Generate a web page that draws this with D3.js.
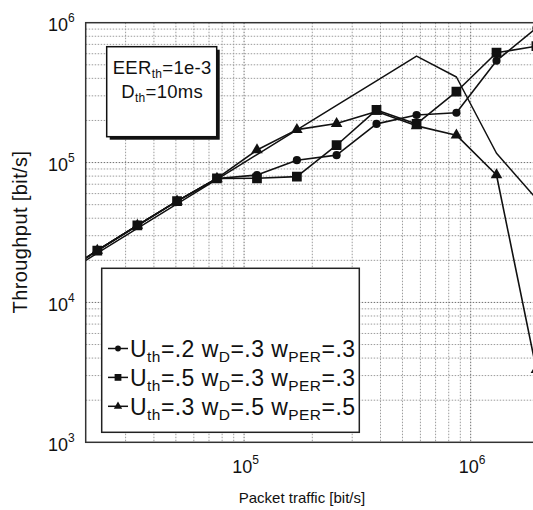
<!DOCTYPE html>
<html><head><meta charset="utf-8">
<script src="https://cdn.jsdelivr.net/npm/d3@7/dist/d3.min.js"></script>
<style>
body{margin:0;background:#fff;}
svg{display:block;font-family:"Liberation Sans",Arial,Helvetica,sans-serif;}
</style>
</head><body>
<svg id="c" width="533" height="510"></svg>
<script>
// ---------------- data ----------------
const traffic = [15000, 22500, 33800, 50600, 75900, 114000, 171000, 256000, 384000, 577000, 865000, 1300000, 1950000];
const thrU2 = [15300, 23500, 35500, 53000, 77000, 81500, 104000, 113000, 189000, 219000, 227000, 535000, 916000];
const thrU5 = [15300, 23500, 35500, 53000, 77000, 77200, 79300, 133000, 238000, 189000, 321000, 610000, 680000];
const thrU3 = [15300, 23500, 35500, 53000, 77000, 123000, 172000, 190000, 232000, 183000, 157000, 81500, 3300];
const thrRef = [15000, 22500, 33800, 50600, 75900, 114000, 171000, 256000, 384000, 577000, 409000, 116600, 55100];
const xTickExps = [5, 6];
const yTickExps = [3, 4, 5, 6];
const legendU = [".2", ".5", ".3"];
const legendWD = [".3", ".3", ".5"];
const legendWPER = [".3", ".3", ".5"];
const legendMarkers = ["circle", "square", "triangle"];
const noteEER = "1e-3";
const noteD = "10ms";

// ---------------- layout ----------------
const svg = d3.select("#c");
const L = 85.7, R = 538.9, T = 22.7, B = 442.3;
const x = d3.scaleLog().domain([2e4, 2e6]).range([L, R]);
const y = d3.scaleLog().domain([1e3, 1e6]).range([B, T]);

svg.append("defs").append("clipPath").attr("id", "clip")
  .append("rect").attr("x", L).attr("y", T).attr("width", R - L).attr("height", B - T);

function logGrid(lo, hi) {
  const out = [];
  for (let e = 2; e <= 7; e++) for (let m = 1; m <= 9; m++) {
    const v = m * Math.pow(10, e);
    if (v > lo * 1.0001 && v < hi * 0.9999) out.push(v);
  }
  return out;
}
const gx = logGrid(2e4, 2e6), gy = logGrid(1e3, 1e6);

const grid = svg.append("g").attr("stroke-width", 1).attr("stroke-dasharray", "1.5,1.5");
grid.selectAll(".vx").data(gx).join("line")
  .attr("x1", d => x(d)).attr("x2", d => x(d)).attr("y1", T).attr("y2", B)
  .attr("stroke", d => Math.abs(Math.log10(d) % 1) < 1e-9 ? "#6f6f6f" : "#9c9c9c");
grid.selectAll(".hy").data(gy).join("line")
  .attr("y1", d => y(d)).attr("y2", d => y(d)).attr("x1", L).attr("x2", R)
  .attr("stroke", d => Math.abs(Math.log10(d) % 1) < 1e-9 ? "#6f6f6f" : "#9c9c9c");

// ---------------- annotation box ----------------
const ann = {x: 106.7, y: 46.7, w: 110, h: 90};
svg.append("rect").attr("x", ann.x + 3).attr("y", ann.y + 3).attr("width", ann.w).attr("height", ann.h).attr("fill", "#111");
svg.append("rect").attr("x", ann.x).attr("y", ann.y).attr("width", ann.w).attr("height", ann.h)
  .attr("fill", "#fff").attr("stroke", "#111").attr("stroke-width", 1.5);

function richParts(t, parts, size, subSize, subDy) {
  let shifted = false;
  parts.forEach(p => {
    const ts = t.append("tspan").text(p.t);
    if (p.x !== undefined) ts.attr("x", p.x);
    let dy = p.dy || 0;
    if (p.sub && !shifted) { dy += subDy; shifted = true; }
    else if (!p.sub && shifted) { dy -= subDy; shifted = false; }
    if (dy) ts.attr("dy", dy);
    ts.attr("font-size", p.sub ? subSize : size);
  });
}
const cx = ann.x + ann.w / 2 + 0.5;
const note1 = svg.append("text").attr("x", cx).attr("y", 74.2).attr("text-anchor", "middle")
  .attr("fill", "#111").attr("letter-spacing", 0.3);
richParts(note1, [{t: "EER"}, {t: "th", sub: true}, {t: "=" + noteEER}], 18.5, 12, 4);
const note2 = svg.append("text").attr("x", cx).attr("y", 98.2).attr("text-anchor", "middle")
  .attr("fill", "#111").attr("letter-spacing", 0.3);
richParts(note2, [{t: "D"}, {t: "th", sub: true}, {t: "=" + noteD}], 18.5, 12, 4);

// ---------------- legend box ----------------
const lg = {x: 101.7, y: 268.3, w: 257.6, h: 164};
svg.append("rect").attr("x", lg.x).attr("y", lg.y).attr("width", lg.w).attr("height", lg.h)
  .attr("fill", "#fff").attr("stroke", "#222").attr("stroke-width", 1.5);

// ---------------- series ----------------
const series = [
  {vals: thrU2, marker: "circle"},
  {vals: thrU5, marker: "square"},
  {vals: thrU3, marker: "triangle"}
];
const line = d3.line().x((d, i) => x(traffic[i])).y(d => y(d));
const plot = svg.append("g").attr("clip-path", "url(#clip)");
plot.append("path").datum(thrRef).attr("d", line).attr("fill", "none")
  .attr("stroke", "#111").attr("stroke-width", 1.5).attr("stroke-linejoin", "round");
series.forEach(s => {
  plot.append("path").datum(s.vals).attr("d", line).attr("fill", "none")
    .attr("stroke", "#111").attr("stroke-width", 1.6).attr("stroke-linejoin", "round");
});
const sym = {
  circle: d3.symbol().type(d3.symbolCircle).size(52),
  square: d3.symbol().type(d3.symbolSquare).size(95),
  triangle: d3.symbol().type(d3.symbolTriangle).size(58)
};
const symSmall = {
  circle: d3.symbol().type(d3.symbolCircle).size(26),
  square: d3.symbol().type(d3.symbolSquare).size(46),
  triangle: d3.symbol().type(d3.symbolTriangle).size(30)
};
series.forEach(s => {
  plot.selectAll(null).data(s.vals).join("path")
    .attr("transform", (d, i) => `translate(${x(traffic[i])},${y(d)})`)
    .attr("d", sym[s.marker]()).attr("fill", "#111");
});

// ---------------- frame & axes ----------------
svg.append("rect").attr("x", L).attr("y", T).attr("width", R - L).attr("height", B - T)
  .attr("fill", "none").attr("stroke", "#333").attr("stroke-width", 1.5);

const xAxis = svg.append("g").attr("transform", `translate(0,${B})`)
  .call(d3.axisBottom(x).tickValues(xTickExps.map(e => Math.pow(10, e))).tickSize(0).tickFormat(""));
xAxis.select(".domain").remove();
xAxis.selectAll(".tick").each(function(d) {
  const t = d3.select(this).append("text").attr("x", 1).attr("y", 30.4).attr("text-anchor", "middle")
    .attr("fill", "#111").attr("font-size", 18);
  t.append("tspan").text("10");
  t.append("tspan").text(Math.round(Math.log10(d))).attr("font-size", 12).attr("dy", -9);
});

const yAxis = svg.append("g").attr("transform", `translate(${L},0)`)
  .call(d3.axisLeft(y).tickValues(yTickExps.map(e => Math.pow(10, e))).tickSize(0).tickFormat(""));
yAxis.select(".domain").remove();
yAxis.selectAll(".tick").each(function(d) {
  const t = d3.select(this).append("text").attr("x", -11).attr("y", 8).attr("text-anchor", "end")
    .attr("fill", "#111").attr("font-size", 18);
  t.append("tspan").text("10");
  t.append("tspan").text(Math.round(Math.log10(d))).attr("font-size", 12).attr("dy", -9);
});

svg.append("text").attr("transform", "translate(27,232) rotate(-90)").attr("text-anchor", "middle")
  .attr("font-size", 20).attr("letter-spacing", 0.4).attr("fill", "#111").text("Throughput  [bit/s]");
svg.append("text").attr("x", 302).attr("y", 503).attr("text-anchor", "middle")
  .attr("font-size", 15).attr("fill", "#111").text("Packet traffic [bit/s]");

// ---------------- legend entries ----------------
const rowY = [348.5, 377.4, 406.3];
legendU.forEach((u, i) => {
  const g = svg.append("g").attr("transform", `translate(0,${rowY[i]})`);
  g.append("line").attr("x1", 108).attr("x2", 128).attr("y1", 0).attr("y2", 0)
    .attr("stroke", "#111").attr("stroke-width", 1.5);
  g.append("path").attr("transform", "translate(118,0)").attr("d", symSmall[legendMarkers[i]]()).attr("fill", "#111");
  const t = g.append("text").attr("x", 130).attr("y", 8.5).attr("fill", "#111").attr("letter-spacing", 0.45);
  richParts(t, [{t: "U"}, {t: "th", sub: true}, {t: "=" + u + " w"}, {t: "D", sub: true},
     {t: "=" + legendWD[i] + " w"}, {t: "PER", sub: true}, {t: "=" + legendWPER[i]}], 23, 15.5, 5);
});
</script>
</body></html>
